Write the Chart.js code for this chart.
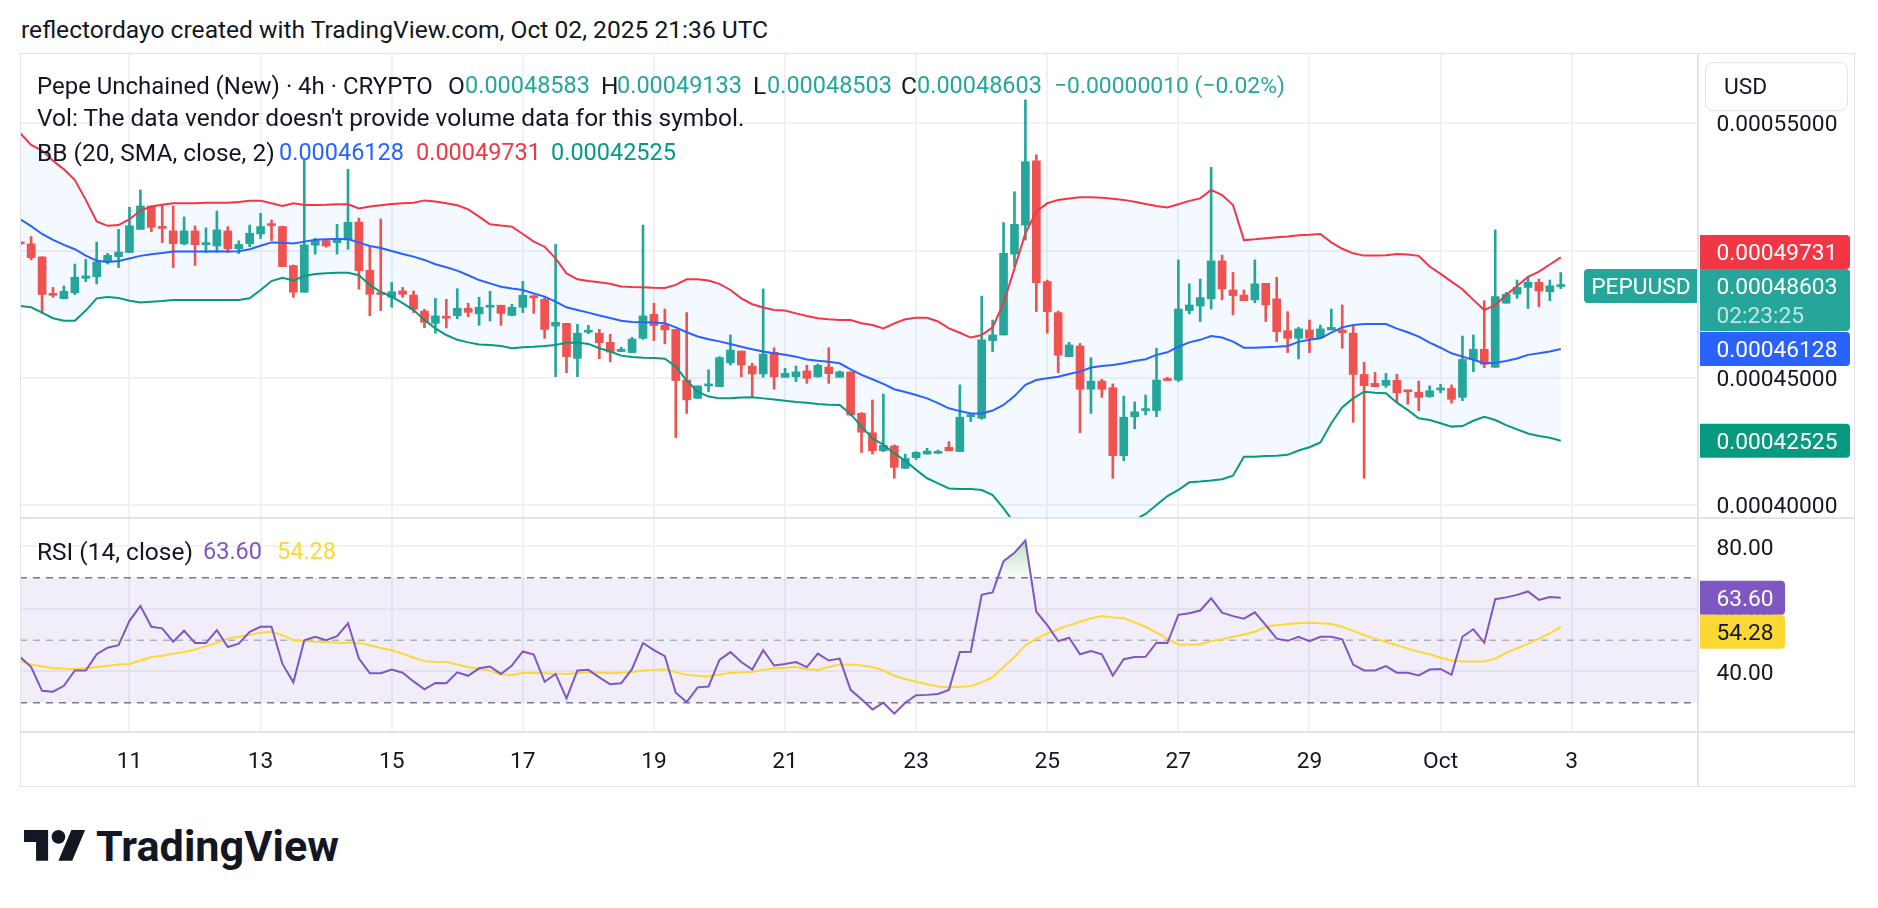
<!DOCTYPE html>
<html><head><meta charset="utf-8">
<script src="https://cdn.jsdelivr.net/npm/chart.js@4.4.1/dist/chart.umd.min.js"></script>
<style>
html,body{margin:0;padding:0;background:#fff;}
body{width:1878px;height:908px;position:relative;overflow:hidden;font-family:Roboto,'DejaVu Sans',sans-serif;color:#131722;}
.t{position:absolute;white-space:nowrap;line-height:1;transform:translateY(-50%);}
canvas{position:absolute;}
</style></head>
<body>
<canvas id="main" width="1835" height="465" style="left:20px;top:53px;width:1835px;height:465px"></canvas>
<canvas id="rsi" width="1835" height="267" style="left:20px;top:519px;width:1835px;height:267px"></canvas>
<script>
// ---- bars: 4h candles, index 0 = first visible bar (Sep 9 08:00 UTC) ----
const FIRST_BAR = -10; // bar offset relative to Sep 11 00:00 UTC
const opens = [
0.0005031,0.0005026,0.0004975,0.0004829,0.0004811,0.0004834,0.0004891,0.0004897,0.0004955,0.0004976,
0.0004992,0.0005083,0.0005175,0.0005094,0.0005077,0.0005026,0.0005077,0.0005023,0.0005018,0.0005077,
0.0005007,0.0005027,0.0005065,0.0005104,0.0005094,0.0004941,0.0004836,0.0005021,0.0005039,0.0005031,
0.0005041,0.0005112,0.0004922,0.0004832,0.0004816,0.0004841,0.0004825,0.0004762,0.0004714,0.000474,
0.0004744,0.0004773,0.0004751,0.0004777,0.0004785,0.0004745,0.0004777,0.0004821,0.0004808,0.0004703,
0.0004714,0.0004576,0.0004679,0.0004675,0.0004639,0.0004603,0.0004599,0.0004655,0.0004749,0.0004707,
0.000469,0.0004491,0.0004419,0.0004468,0.0004465,0.0004559,0.0004605,0.0004546,0.0004515,0.00046,
0.0004502,0.0004504,0.0004527,0.0004504,0.0004542,0.0004502,0.0004523,0.000436,0.0004284,0.0004213,
0.0004232,0.0004144,0.0004186,0.00042,0.0004203,0.0004227,0.000421,0.0004347,0.0004341,0.0004646,
0.0004668,0.0004986,0.00051,0.0005352,0.0004878,0.0004756,0.0004583,0.0004625,0.0004455,0.0004487,
0.0004461,0.0004194,0.0004347,0.0004371,0.0004371,0.0004496,0.0004491,0.0004764,0.0004782,0.000481,
0.0004959,0.0004845,0.0004825,0.0004806,0.0004871,0.000481,0.0004685,0.0004655,0.0004688,0.0004658,
0.0004688,0.0004688,0.0004675,0.0004513,0.0004478,0.000447,0.000449,0.0004451,0.0004443,0.0004426,
0.0004452,0.0004458,0.0004423,0.0004572,0.0004612,0.0004541,0.0004793,0.0004829,0.0004855,0.0004875,
0.0004838,0.00048583];
const highs = [
0.0005035,0.0005055,0.0004975,0.0004855,0.0004861,0.0004947,0.0004965,0.0005033,0.0004989,0.0005083,
0.000517,0.0005238,0.0005175,0.0005179,0.0005175,0.0005132,0.0005097,0.0005089,0.0005155,0.0005094,
0.0005038,0.00051,0.0005146,0.000512,0.0005096,0.0004943,0.0005356,0.0005048,0.0005041,0.0005103,
0.0005319,0.0005127,0.0005015,0.0005124,0.0004875,0.0004855,0.0004841,0.0004769,0.0004812,0.0004808,
0.000485,0.0004793,0.0004816,0.000484,0.0004785,0.0004789,0.0004879,0.0004824,0.0004816,0.0005024,
0.0004714,0.000471,0.0004706,0.000469,0.0004671,0.000462,0.0004659,0.00051,0.0004793,0.000477,
0.000469,0.0004756,0.0004468,0.0004531,0.0004583,0.0004668,0.0004605,0.0004557,0.0004849,0.0004618,
0.0004537,0.0004546,0.0004549,0.0004554,0.0004618,0.0004527,0.0004523,0.0004363,0.0004413,0.0004436,
0.0004236,0.00042,0.000421,0.0004223,0.0004216,0.0004249,0.0004472,0.000436,0.0004821,0.0004727,
0.000511,0.0005231,0.0005592,0.0005376,0.0004884,0.0004762,0.0004639,0.0004635,0.0004579,0.0004494,
0.0004476,0.0004428,0.0004405,0.0004432,0.0004616,0.0004502,0.0004963,0.0004869,0.0004888,0.0005327,
0.0004982,0.0004914,0.0004845,0.0004963,0.0004871,0.0004895,0.000476,0.0004698,0.0004727,0.0004707,
0.000477,0.0004786,0.0004707,0.0004561,0.0004521,0.0004517,0.0004514,0.0004451,0.0004487,0.0004468,
0.0004474,0.0004472,0.0004664,0.0004668,0.0004803,0.0005081,0.0004836,0.0004884,0.0004897,0.0004888,
0.0004884,0.00049133];
const lows = [
0.0005022,0.0004963,0.0004753,0.0004816,0.0004811,0.0004827,0.0004878,0.0004869,0.0004947,0.0004933,
0.0004992,0.0005083,0.0005074,0.0005031,0.0004933,0.0005022,0.0004941,0.0004992,0.0004993,0.0004992,
0.0004988,0.0005015,0.0005047,0.0005039,0.0004937,0.0004816,0.0004836,0.0004986,0.0005013,0.0004986,
0.0005005,0.0004848,0.0004744,0.0004764,0.0004777,0.0004816,0.0004756,0.0004697,0.0004675,0.0004696,
0.0004732,0.000474,0.0004706,0.0004723,0.0004706,0.0004743,0.0004756,0.0004753,0.0004655,0.0004504,
0.000452,0.0004504,0.0004673,0.0004575,0.0004563,0.0004603,0.0004599,0.0004651,0.0004646,0.0004633,
0.0004265,0.000436,0.0004419,0.0004445,0.0004465,0.000455,0.0004504,0.0004423,0.0004502,0.0004455,
0.0004502,0.0004485,0.0004478,0.0004502,0.0004478,0.0004502,0.000435,0.0004206,0.00042,0.000421,
0.0004105,0.0004144,0.0004179,0.00042,0.0004203,0.0004213,0.000421,0.0004328,0.0004337,0.0004603,
0.0004668,0.0004937,0.0005041,0.000476,0.0004675,0.000452,0.0004583,0.0004284,0.000436,0.0004423,
0.0004105,0.0004174,0.00043,0.0004354,0.0004347,0.0004489,0.0004485,0.0004751,0.0004721,0.000477,
0.0004806,0.0004747,0.0004803,0.0004795,0.0004721,0.0004642,0.0004599,0.0004574,0.0004599,0.0004655,
0.0004688,0.0004616,0.0004325,0.0004105,0.0004465,0.0004462,0.0004406,0.0004396,0.0004371,0.0004423,
0.0004441,0.00044,0.000441,0.0004524,0.000454,0.0004541,0.0004793,0.0004812,0.0004772,0.0004779,
0.0004803,0.00048503];
const closes = [
0.0005026,0.0004972,0.0004827,0.0004824,0.000484,0.0004895,0.00049,0.0004955,0.0004981,0.0004994,
0.0005097,0.0005175,0.0005091,0.0005087,0.0005027,0.0005077,0.0005023,0.0005031,0.0005081,0.0005007,
0.0005024,0.0005068,0.0005094,0.0005098,0.0004937,0.0004836,0.0005022,0.0005039,0.0005018,0.0005041,
0.0005111,0.0004921,0.0004828,0.0004827,0.0004838,0.0004828,0.0004769,0.0004718,0.0004743,0.0004734,
0.0004773,0.0004757,0.0004777,0.0004785,0.0004753,0.0004777,0.0004824,0.0004814,0.000469,0.0004718,
0.0004583,0.0004675,0.0004686,0.0004638,0.0004601,0.0004612,0.0004652,0.0004743,0.0004705,0.0004688,
0.0004489,0.0004413,0.0004468,0.0004476,0.0004579,0.0004609,0.000455,0.0004515,0.0004593,0.0004504,
0.0004517,0.0004523,0.0004498,0.0004549,0.0004516,0.0004523,0.0004354,0.0004286,0.0004213,0.0004234,
0.0004148,0.0004183,0.0004207,0.0004212,0.0004207,0.0004213,0.0004345,0.0004354,0.0004649,0.0004668,
0.0004989,0.0005103,0.0005349,0.0004874,0.000476,0.0004589,0.0004629,0.0004455,0.0004487,0.0004455,
0.0004194,0.0004345,0.0004366,0.0004377,0.0004491,0.0004489,0.000477,0.0004786,0.0004815,0.0004959,
0.0004849,0.0004823,0.0004803,0.0004869,0.0004786,0.0004681,0.0004655,0.0004692,0.0004655,0.0004692,
0.0004698,0.0004677,0.0004513,0.0004469,0.0004465,0.000449,0.0004441,0.0004445,0.0004423,0.0004449,
0.0004457,0.0004415,0.0004572,0.0004612,0.0004553,0.0004819,0.0004828,0.0004855,0.0004875,0.0004841,
0.00048613,0.00048603];
// ---- Bollinger Bands (20, SMA, close, 2) ----
const bbUpper = [
0.0005461,0.0005415,0.0005393,0.0005353,0.0005319,0.0005277,0.0005199,0.0005114,0.0005097,0.00051,
0.0005123,0.0005157,0.0005173,0.000518,0.0005186,0.0005186,0.0005186,0.0005188,0.0005188,0.0005188,
0.0005191,0.0005196,0.0005196,0.0005186,0.0005175,0.0005186,0.0005179,0.0005179,0.000518,0.0005182,
0.0005182,0.0005165,0.0005173,0.0005178,0.0005183,0.0005186,0.0005188,0.0005197,0.0005193,0.0005186,
0.0005178,0.0005162,0.0005133,0.0005103,0.0005098,0.0005094,0.0005065,0.0005035,0.0005015,0.0004969,
0.000491,0.0004887,0.000488,0.0004875,0.0004869,0.0004859,0.0004857,0.0004856,0.0004854,0.0004853,
0.0004865,0.0004887,0.0004887,0.0004882,0.0004869,0.0004845,0.0004812,0.0004789,0.0004776,0.0004766,
0.0004764,0.0004753,0.0004743,0.0004734,0.000473,0.0004727,0.0004727,0.0004714,0.0004707,0.0004694,
0.0004714,0.000473,0.0004736,0.0004736,0.0004721,0.0004694,0.0004677,0.0004658,0.0004668,0.0004698,
0.0004793,0.000493,0.0005068,0.0005153,0.0005186,0.0005199,0.0005204,0.0005209,0.0005209,0.0005207,
0.0005203,0.0005199,0.0005192,0.0005183,0.0005175,0.0005169,0.0005182,0.0005195,0.0005205,0.0005238,
0.0005218,0.0005179,0.0005041,0.0005044,0.0005048,0.0005052,0.0005055,0.000506,0.0005062,0.0005065,
0.0005032,0.0005007,0.0004989,0.000498,0.000498,0.0004981,0.0004986,0.0004984,0.0004979,0.0004937,
0.0004908,0.0004878,0.0004848,0.0004806,0.0004766,0.0004786,0.0004825,0.0004861,0.0004897,0.0004917,
0.0004945,0.00049731];
const bbBasis = [
0.0005123,0.0005096,0.0005065,0.0005042,0.0005022,0.0005005,0.000498,0.000496,0.0004955,0.0004959,
0.0004969,0.0004979,0.0004985,0.000499,0.0004996,0.0004996,0.0004996,0.0004996,0.0004997,0.0004996,
0.0004997,0.0005005,0.0005019,0.0005032,0.0005031,0.0005028,0.0005035,0.0005042,0.0005044,0.0005045,
0.0005045,0.0005031,0.0005018,0.000501,0.0004998,0.0004986,0.0004976,0.0004963,0.0004946,0.0004934,
0.0004921,0.0004903,0.0004884,0.0004871,0.0004858,0.0004851,0.0004845,0.0004831,0.0004819,0.0004799,
0.0004777,0.0004766,0.0004756,0.0004745,0.0004735,0.0004724,0.0004719,0.0004718,0.0004717,0.0004714,
0.0004698,0.0004679,0.0004662,0.0004651,0.0004643,0.0004633,0.0004622,0.0004612,0.0004603,0.0004596,
0.000459,0.0004583,0.0004572,0.0004567,0.0004563,0.0004557,0.0004533,0.0004511,0.0004494,0.0004476,
0.0004455,0.0004444,0.0004432,0.0004419,0.00044,0.000438,0.0004369,0.000436,0.000436,0.0004371,
0.0004393,0.0004428,0.0004472,0.0004491,0.0004498,0.0004504,0.0004515,0.0004524,0.000454,0.0004546,
0.000455,0.0004557,0.0004566,0.0004573,0.000459,0.00046,0.0004622,0.0004639,0.0004649,0.0004664,
0.0004658,0.0004642,0.0004618,0.0004618,0.000462,0.0004622,0.0004625,0.0004641,0.0004649,0.0004655,
0.0004677,0.0004698,0.0004707,0.0004711,0.0004711,0.0004711,0.0004693,0.0004679,0.0004662,0.0004638,
0.0004618,0.0004596,0.0004583,0.0004571,0.0004557,0.0004559,0.0004566,0.0004576,0.000459,0.0004596,
0.0004603,0.00046128];
const bbLower = [
0.0004782,0.0004777,0.0004756,0.0004734,0.0004724,0.0004724,0.0004764,0.0004812,0.0004817,0.0004813,
0.0004803,0.0004796,0.0004799,0.0004802,0.0004806,0.0004806,0.0004806,0.0004806,0.0004806,0.0004806,
0.0004806,0.0004812,0.0004845,0.000488,0.0004893,0.0004882,0.00049,0.0004908,0.0004911,0.0004913,
0.0004913,0.0004903,0.0004865,0.0004837,0.0004819,0.0004793,0.0004766,0.0004727,0.0004694,0.0004668,
0.0004649,0.0004639,0.0004631,0.0004629,0.0004625,0.0004616,0.000462,0.0004622,0.0004625,0.0004629,
0.0004638,0.0004639,0.0004633,0.0004616,0.0004603,0.0004587,0.0004582,0.0004579,0.0004578,0.0004575,
0.0004544,0.0004489,0.0004445,0.0004426,0.0004419,0.0004419,0.0004422,0.0004423,0.0004419,0.0004415,
0.000441,0.0004405,0.0004402,0.0004397,0.0004394,0.0004393,0.0004358,0.0004308,0.0004262,0.0004236,
0.0004203,0.0004174,0.0004138,0.0004105,0.0004085,0.0004065,0.0004063,0.0004063,0.0004059,0.0004039,
0.0003987,0.0003928,0.0003876,0.000383,0.000381,0.000381,0.0003823,0.0003836,0.0003869,0.0003889,
0.0003899,0.0003915,0.0003941,0.0003965,0.0004,0.0004035,0.0004059,0.0004089,0.0004092,0.0004096,
0.0004101,0.0004115,0.000419,0.000419,0.0004193,0.0004194,0.0004197,0.0004214,0.0004227,0.0004246,
0.0004321,0.0004384,0.0004419,0.0004445,0.0004441,0.0004439,0.0004402,0.0004373,0.0004341,0.0004334,
0.0004321,0.0004308,0.000431,0.0004331,0.0004347,0.0004334,0.0004314,0.0004297,0.0004281,0.0004271,
0.0004264,0.00042525];
// ---- RSI (14, close) and its MA ----
const rsi = [
44.6,41.4,33.8,33.5,35.4,40.3,40.3,45.5,47.6,48.4,
56.2,61.0,54.3,53.8,49.5,53.0,49.1,49.1,53.2,47.8,
48.9,52.7,54.3,54.3,42.4,36.5,50.0,51.1,50.0,51.3,
55.4,44.1,39.4,39.4,40.6,39.6,36.8,34.3,36.3,36.2,
39.7,38.6,41.0,41.6,39.2,41.9,46.4,45.4,36.7,39.2,
31.4,40.3,40.5,38.1,35.9,36.2,40.8,49.1,46.8,44.9,
33.2,30.2,34.9,35.2,43.7,46.2,43.0,40.6,46.8,41.9,
42.4,43.0,41.4,45.7,43.5,44.1,34.1,31.1,27.8,30.0,
26.5,30.0,32.4,32.5,32.8,34.1,46.2,46.3,64.5,65.3,
75.3,78.0,81.9,59.1,54.8,49.7,50.8,45.5,46.5,45.5,
38.7,43.9,44.6,44.7,49.2,49.1,58.1,58.6,59.5,63.4,
58.8,57.7,56.9,58.9,54.8,50.5,49.8,51.1,49.7,51.1,
51.1,50.3,42.2,40.3,40.3,41.7,39.6,39.6,38.7,40.6,
40.8,38.9,51.1,53.5,49.2,63.1,63.7,64.5,65.6,62.9,
63.8,63.60];
const rsiMa = [
43.3,42.2,41.6,41.1,40.9,40.8,41.0,41.4,41.8,42.2,
42.4,43.5,44.6,45.0,45.7,46.2,47.0,48.1,49.2,50.5,
51.1,51.7,52.4,52.7,51.6,50.0,49.7,49.5,49.4,49.2,
49.2,49.2,48.4,47.5,46.8,45.7,44.4,43.3,43.1,43.0,
42.2,41.4,40.8,40.3,39.0,38.9,39.5,39.5,39.4,39.3,
39.2,39.5,39.7,39.6,39.4,39.6,39.8,40.3,40.5,40.7,
39.7,38.9,38.6,38.4,39.0,39.5,39.7,39.9,40.5,41.0,
41.2,41.4,40.8,40.5,41.4,42.2,42.2,41.9,41.4,40.3,
38.6,37.6,36.7,35.9,35.2,34.9,35.1,35.3,36.6,38.2,
41.4,44.6,48.4,50.5,52.2,53.5,54.8,55.9,57.0,57.7,
57.3,57.0,55.7,54.3,52.4,50.5,48.6,48.6,48.7,49.7,
50.3,51.1,51.8,52.7,54.3,54.8,55.2,55.4,55.6,55.4,
55.2,54.3,53.0,51.6,50.5,49.5,48.4,47.3,46.3,45.5,
44.4,43.5,43.2,43.2,43.2,44.1,45.9,47.4,48.9,50.5,
52.2,54.28];
// ---- axes ----
const dayTicks  = [0,12,24,36,48,60,72,84,96,108,120,132];          // bar offsets of day boundaries
const dayLabels = ['11','13','15','17','19','21','23','25','27','29','Oct','3'];
const priceTicks = [0.0004,0.00045,0.0005,0.00055];
const rsiTicks = [40,60,80];
const rsiBands = [70,50,30];
const X_MIN = -10.02, X_MAX = 143.56;
const Y_MIN = 0.00039489, Y_MAX = 0.00057762;
const R_MIN = 20.62, R_MAX = 88.78;
const SYMBOL = 'PEPUUSD', COUNTDOWN = '02:23:25';

const UP = '#26a69a', DOWN = '#ef5350', GRID = '#eff1f5', TXT = '#131722';
const TY = 2.5; // visual centring of canvas text

const mctx = document.createElement('canvas').getContext('2d');
function fitPx(text, target, weight){ mctx.font = (weight||400)+' 100px Roboto'; return 100*target/mctx.measureText(text).width; }
const AX = fitPx('0.00045000', 121);
const fmt8 = v => v.toFixed(8);

function rrect(ctx,x,y,w,h,rL,rR){
  ctx.beginPath();
  ctx.moveTo(x+rL,y); ctx.lineTo(x+w-rR,y); ctx.arcTo(x+w,y,x+w,y+rR,rR);
  ctx.lineTo(x+w,y+h-rR); ctx.arcTo(x+w,y+h,x+w-rR,y+h,rR);
  ctx.lineTo(x+rL,y+h); ctx.arcTo(x,y+h,x,y+h-rL,rL);
  ctx.lineTo(x,y+rL); ctx.arcTo(x,y,x+rL,y,rL); ctx.closePath();
}

const xs = closes.map((_,i)=>FIRST_BAR+i);
const pts = arr => arr.map((v,i)=>({x:xs[i], y:v}));
const cColor = closes.map((c,i)=> c>=opens[i] ? UP : DOWN);
const last = closes.length-1;

const priceLabels = {
  id:'priceLabels',
  afterDraw(chart){
    const {ctx, chartArea:a, scales:{y}} = chart;
    const H=34, bx=a.right+2, bw=150, tx=a.right+18.5;
    ctx.save();
    ctx.font = AX+'px Roboto'; ctx.textBaseline='middle'; ctx.textAlign='left';
    const box=(top,h,col,text,cy)=>{ctx.fillStyle=col; rrect(ctx,bx,top,bw,h,0,4); ctx.fill(); ctx.fillStyle='#fff'; ctx.fillText(text,tx,cy+TY);};
    const pc=y.getPixelForValue(closes[last]);
    const tealTop=pc-H/2, tealH=62;
    const pu=y.getPixelForValue(bbUpper[last]);
    const redTop=Math.min(pu-H/2, tealTop-H);
    box(redTop,H,'#F23645',fmt8(bbUpper[last]),redTop+H/2);
    box(tealTop,tealH,UP,fmt8(closes[last]),pc);
    ctx.fillStyle='rgba(255,255,255,0.72)'; ctx.fillText(COUNTDOWN,tx,pc+29+TY);
    const pb=y.getPixelForValue(bbBasis[last]);
    const blueTop=Math.max(pb-H/2, tealTop+tealH);
    box(blueTop,H,'#2962FF',fmt8(bbBasis[last]),blueTop+H/2);
    const pl=y.getPixelForValue(bbLower[last]);
    box(pl-H/2,H,'#089981',fmt8(bbLower[last]),pl);
    ctx.fillStyle=UP; rrect(ctx,a.right-114,tealTop,114,H,4,0); ctx.fill();
    ctx.fillStyle='#fff'; ctx.textAlign='center'; ctx.fillText(SYMBOL,a.right-57,pc+TY);
    ctx.restore();
  }
};
const rsiLabels = {
  id:'rsiLabels',
  afterDraw(chart){
    const {ctx, chartArea:a, scales:{y}} = chart;
    const H=34, bx=a.right+2, bw=85, tx=a.right+18.5;
    ctx.save();
    ctx.font = AX+'px Roboto'; ctx.textBaseline='middle'; ctx.textAlign='left';
    const pr=y.getPixelForValue(rsi[last]);
    const pTop=pr-H/2;
    ctx.fillStyle='#7E57C2'; rrect(ctx,bx,pTop,bw,H,0,4); ctx.fill();
    ctx.fillStyle='#fff'; ctx.fillText(rsi[last].toFixed(2),tx,pr+TY);
    const pm=y.getPixelForValue(rsiMa[last]);
    const mTop=Math.max(pm-H/2, pTop+H);
    ctx.fillStyle='#FDD835'; rrect(ctx,bx,mTop,bw,H,0,4); ctx.fill();
    ctx.fillStyle=TXT; ctx.fillText(rsiMa[last].toFixed(2),tx,mTop+H/2+TY);
    ctx.restore();
  }
};

const xScale = (showLabels) => ({
  type:'linear', min:X_MIN, max:X_MAX, offset:false, bounds:'data',
  grid:{color:GRID, lineWidth:2, drawTicks:false, offset:false},
  border:{display:false},
  ticks:{display:showLabels, autoSkip:false, maxRotation:0, padding:16.5, color:TXT, font:{family:'Roboto', size:AX},
         callback:(v)=>dayLabels[dayTicks.indexOf(v)]},
  afterBuildTicks:s=>{s.ticks = dayTicks.map(v=>({value:v}));},
  afterFit:s=>{s.height = showLabels?54:0; s.paddingLeft=0; s.paddingRight=0;}
});
const yScale = (min,max,ticks,fmt) => ({
  position:'right', min, max, bounds:'data',
  grid:{color:GRID, lineWidth:2, drawTicks:false},
  border:{display:false},
  ticks:{padding:18.5, labelOffset:TY, color:TXT, font:{family:'Roboto', size:AX}, callback:fmt},
  afterBuildTicks:s=>{s.ticks = ticks.map(v=>({value:v}));},
  afterFit:s=>{s.width=157; s.paddingTop=0; s.paddingBottom=0;}
});
const common = {
  responsive:false, maintainAspectRatio:false, animation:false, devicePixelRatio:1, events:[],
  layout:{padding:0},
  plugins:{legend:{display:false}, tooltip:{enabled:false}, filler:{drawTime:'beforeDatasetsDraw'}}
};

new Chart(document.getElementById('main'), {
  type:'bar',
  data:{datasets:[
    {type:'line', data:pts(bbUpper), borderColor:'#F23645', borderWidth:2, pointRadius:0, tension:0, fill:2, backgroundColor:'rgba(33,150,243,0.055)', order:1},
    {type:'line', data:pts(bbBasis), borderColor:'#2962FF', borderWidth:2, pointRadius:0, tension:0, fill:false, order:1},
    {type:'line', data:pts(bbLower), borderColor:'#089981', borderWidth:2, pointRadius:0, tension:0, fill:false, order:1},
    {type:'bar', data:xs.map((x,i)=>({x, y:[lows[i], highs[i]]})), backgroundColor:cColor, barThickness:2, grouped:false, order:3},
    {type:'bar', data:xs.map((x,i)=>({x, y:[opens[i], closes[i]]})), backgroundColor:cColor, barThickness:8, minBarLength:2, grouped:false, order:2}
  ]},
  options:Object.assign({}, common, {scales:{x:xScale(false), y:yScale(Y_MIN,Y_MAX,priceTicks,fmt8)}}),
  plugins:[priceLabels]
});

// gradient fills beyond the RSI bands, built from the chart's own scale
function bandGradient(c, from, to, rgb){
  const {chart} = c; const y = chart.scales && chart.scales.y;
  if (!chart.chartArea || !y) return 'rgba('+rgb+',0.2)';
  const g = chart.ctx.createLinearGradient(0, y.getPixelForValue(from), 0, y.getPixelForValue(to));
  g.addColorStop(0, 'rgba('+rgb+',0.45)'); g.addColorStop(1, 'rgba('+rgb+',0.04)');
  return g;
}
const hline = v => [{x:X_MIN,y:v},{x:X_MAX,y:v}];
new Chart(document.getElementById('rsi'), {
  type:'line',
  data:{datasets:[
    {data:hline(rsiBands[0]), borderColor:'#787B86', borderWidth:1.5, borderDash:[7,6], pointRadius:0, fill:2, backgroundColor:'rgba(126,87,194,0.1)', order:5},
    {data:hline(rsiBands[1]), borderColor:'rgba(120,123,134,0.55)', borderWidth:1.5, borderDash:[7,6], pointRadius:0, fill:false, order:5},
    {data:hline(rsiBands[2]), borderColor:'#787B86', borderWidth:1.5, borderDash:[7,6], pointRadius:0, fill:false, order:5},
    {data:pts(rsiMa), borderColor:'#FDD835', borderWidth:2, pointRadius:0, tension:0, fill:false, order:2},
    {data:pts(rsi), borderColor:'#7E57C2', borderWidth:2, pointRadius:0, tension:0,
     backgroundColor:c=>bandGradient(c, 85, rsiBands[0], '76,175,80'),
     fill:{target:{value:rsiBands[0]}, below:'rgba(0,0,0,0)'}, order:1},
    {data:pts(rsi), borderColor:'rgba(0,0,0,0)', borderWidth:0, pointRadius:0, tension:0,
     backgroundColor:c=>bandGradient(c, 15, rsiBands[2], '242,54,69'),
     fill:{target:{value:rsiBands[2]}, above:'rgba(0,0,0,0)'}, order:6}
  ]},
  options:Object.assign({}, common, {scales:{x:xScale(true), y:yScale(R_MIN,R_MAX,rsiTicks,v=>v.toFixed(2))}}),
  plugins:[rsiLabels]
});

// ---- frame, separators, text ----
function div(css){ const d=document.createElement('div'); d.style.cssText='position:absolute;'+css; document.body.appendChild(d); return d; }
div('left:20px;top:53px;width:1835px;height:734px;border:1px solid #e0e3eb;box-sizing:border-box;');
div('left:20px;top:517px;width:1835px;height:2px;background:#e0e3eb;');
div('left:20px;top:731px;width:1835px;height:2px;background:#e0e3eb;');
div('left:1697px;top:53px;width:2px;height:734px;background:#e0e3eb;');
div('left:1705px;top:62px;width:143px;height:49px;border:1px solid #e0e3eb;border-radius:8px;background:#fff;box-sizing:border-box;');

function text(t, x, cy, size, color, weight){
  const d=document.createElement('div'); d.className='t'; d.textContent=t;
  d.style.left=x+'px'; d.style.top=cy+'px'; d.style.fontSize=size+'px'; d.style.color=color||TXT;
  if(weight) d.style.fontWeight=weight;
  document.body.appendChild(d); return d;
}
const title = 'reflectordayo created with TradingView.com, Oct 02, 2025 21:36 UTC';
text(title, 21, 30, fitPx(title, 748));
const volTxt = "Vol: The data vendor doesn't provide volume data for this symbol.";
const LF = fitPx(volTxt, 708);
const VF = Math.min(LF, fitPx('0.00048583', 125));   // numeric legend values
const symTxt = 'Pepe Unchained (New) · 4h · CRYPTO';
text(symTxt, 37, 86, Math.min(LF, fitPx(symTxt, 396)));
const chg = closes[last]-closes[last-1];
const minus = s => s.replace('-', '\u2212');
const chgTxt = minus(chg.toFixed(8))+' ('+minus((chg/closes[last-1]*100).toFixed(2))+'%)';
text('O', 448, 86, LF); text(fmt8(opens[last]), 465, 86, VF, UP);
text('H', 601, 86, LF); text(fmt8(highs[last]), 617, 86, VF, UP);
text('L', 753, 86, LF); text(fmt8(lows[last]), 767, 86, VF, UP);
text('C', 901, 86, LF); text(fmt8(closes[last]), 917, 86, VF, UP);
text(chgTxt, 1054, 86, Math.min(LF, fitPx(chgTxt, 231)), UP);
text(volTxt, 37, 118, LF);
text('BB (20, SMA, close, 2)', 37, 152.5, LF);
text(fmt8(bbBasis[last]), 279, 152.5, VF, '#2962FF');
text(fmt8(bbUpper[last]), 416, 152.5, VF, '#F23645');
text(fmt8(bbLower[last]), 551, 152.5, VF, '#089981');
text('RSI (14, close)', 37, 551.5, LF);
text(rsi[last].toFixed(2), 203, 551.5, VF, '#7E57C2');
text(rsiMa[last].toFixed(2), 277, 551.5, VF, '#FDD835');
text('USD', 1724, 87, AX);
// logo
const logo = document.createElementNS('http://www.w3.org/2000/svg','svg');
logo.setAttribute('viewBox','0 0 36 28'); logo.setAttribute('width','62'); logo.setAttribute('height','48.2');
logo.style.cssText='position:absolute;left:24px;top:823px;';
logo.innerHTML='<path fill="#131722" d="M14 22H7V11H0V4h14v18zM28 22h-8l7.5-18h8L28 22z"/><circle fill="#131722" cx="20" cy="8" r="4"/>';
document.body.appendChild(logo);
text('TradingView', 96, 847, fitPx('TradingView', 243, 700), TXT, 700);
</script>
</body></html>
